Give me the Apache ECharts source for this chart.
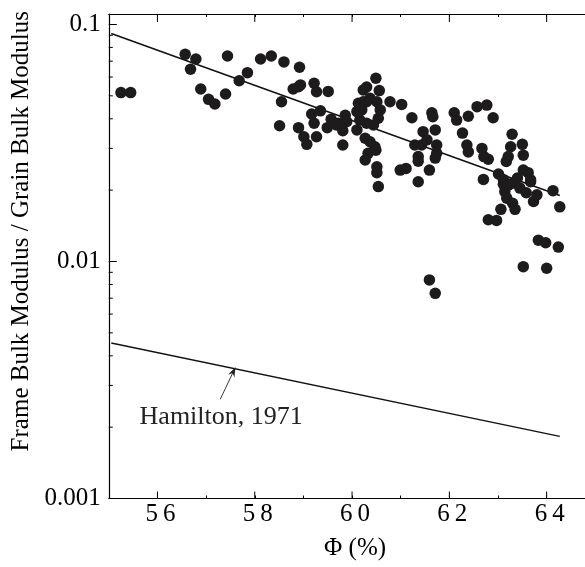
<!DOCTYPE html>
<html>
<head>
<meta charset="utf-8">
<script src="https://cdn.jsdelivr.net/npm/echarts@6/dist/echarts.min.js"></script>
<style>
html,body{margin:0;padding:0;background:#fff;}
#chart{width:585px;height:567px;}
</style>
</head>
<body>
<div id="chart"></div>
<script>
// ---- data ----
const phi = [
  55.25,55.45,56.57,56.68,56.79,56.89,57.05,57.18,57.40,57.44,57.68,57.85,58.12,58.34,58.60,58.92,
  58.79,58.90,58.94,58.55,58.51,59.22,59.27,59.51,59.17,59.35,59.22,58.90,59.01,59.07,59.27,59.49,
  59.57,59.72,59.68,59.81,59.86,59.81,59.89,60.49,60.56,60.23,60.30,60.13,60.23,60.37,60.51,60.58,
  60.54,60.44,60.30,60.16,60.10,60.20,60.30,60.16,60.78,61.02,60.10,60.27,60.37,60.47,60.33,60.27,
  60.51,60.51,60.54,60.49,60.99,61.11,61.23,61.36,61.29,61.36,61.43,61.46,61.54,61.36,61.64,61.66,
  61.71,61.74,61.74,61.71,61.59,62.10,62.15,62.39,62.57,62.77,62.90,62.27,62.36,62.39,62.67,62.71,
  62.80,62.70,63.29,63.26,63.50,63.52,63.21,63.17,63.52,63.62,63.67,63.01,63.11,63.11,63.21,63.30,
  63.45,63.67,63.80,63.14,63.18,63.30,63.35,63.73,64.13,64.27,63.06,62.80,62.97,63.83,63.98,64.24,
  63.52,64.00,61.59,61.71,63.40,63.58
];
const ratio = [
  0.0516,0.0516,0.0748,0.0647,0.0715,0.0534,0.0483,0.0462,0.0509,0.0736,0.0579,0.0626,0.0715,0.0736,0.0695,0.0660,
  0.0534,0.0546,0.0556,0.0472,0.0374,0.0565,0.0520,0.0522,0.0419,0.0432,0.0383,0.0367,0.0336,0.0312,0.0336,0.0367,
  0.0398,0.0383,0.0377,0.0356,0.0414,0.0310,0.0389,0.0593,0.0526,0.0529,0.0545,0.0465,0.0472,0.0488,0.0472,0.0436,
  0.0402,0.0377,0.0383,0.0395,0.0429,0.0436,0.0472,0.0450,0.0472,0.0460,0.0359,0.0331,0.0320,0.0305,0.0286,0.0268,
  0.0251,0.0237,0.0207,0.0295,0.0243,0.0247,0.0404,0.0217,0.0310,0.0277,0.0310,0.0353,0.0326,0.0265,0.0424,0.0408,
  0.0359,0.0310,0.0286,0.0273,0.0243,0.0424,0.0395,0.0410,0.0450,0.0457,0.0404,0.0348,0.0310,0.0290,0.0300,0.0277,
  0.0270,0.0222,0.0344,0.0305,0.0312,0.0281,0.0277,0.0264,0.0243,0.0237,0.0217,0.0234,0.0222,0.0212,0.0210,0.0214,
  0.0204,0.0221,0.0191,0.0197,0.0185,0.0176,0.0166,0.0179,0.0199,0.0170,0.0166,0.0150,0.0149,0.0123,0.0120,0.0115,
  0.00951,0.00936,0.00836,0.00734,0.0225,0.0195
];
// regression line through the data
const fitPhi = [55.05, 64.27];
const fitRatio = [0.0916, 0.0190];
// Hamilton (1971) line
const hamPhi = [55.05, 64.27];
const hamRatio = [0.00453, 0.00183];
// annotation
const hamLabel = 'Hamilton, 1971';
const hamLabelPos = [57.31, 0.00221];
const arrowTail = [57.29, 0.00262];
const arrowTip = [57.56, 0.00343];
// axes
const xMin = 55, xMax = 65;
const yMin = 0.001, yMax = 0.1107;
const xMajorTicks = [56, 58, 60, 62, 64];
const yTickLabels = ['0.001', '0.01', '0.1'];
const yMinorTicks = [0.002,0.003,0.004,0.005,0.006,0.007,0.008,0.009,
                     0.02,0.03,0.04,0.05,0.06,0.07,0.08,0.09];
const xTitle = 'Φ (%)';
const yTitle = 'Frame Bulk Modulus / Grain Bulk Modulus';

const FONT = 'Liberation Serif';
const INK = '#000';

const chart = echarts.init(document.getElementById('chart'), null, {renderer: 'canvas'});

function yLabel(v) {
  const l = Math.log10(v);
  const r = Math.round(l);
  if (Math.abs(l - r) > 1e-6) return '';
  const idx = r + 3;
  return yTickLabels[idx] || '';
}
function xLabel(v) {
  const r = Math.round(v);
  if (Math.abs(v - r) > 1e-6 || xMajorTicks.indexOf(r) < 0) return '';
  return String(r).split('').join('\u2009');
}

const option = {
  animation: false,
  backgroundColor: '#fff',
  textStyle: { fontFamily: FONT, color: INK },
  grid: { left: 108.8, top: 14, bottom: 68.5, right: -10.3, containLabel: false, outerBoundsMode: 'none' },
  xAxis: [
    {
      type: 'value', min: xMin, max: xMax, interval: 1, position: 'bottom',
      name: xTitle, nameLocation: 'middle', nameGap: 37,
      nameTextStyle: { fontFamily: FONT, fontSize: 25, color: INK, padding: [0, 0, 0, 6] },
      axisLine: { show: true, onZero: false, lineStyle: { color: INK, width: 1.2 } },
      axisTick: { show: true, inside: true, length: 3, lineStyle: { color: INK, width: 1 } },
      axisLabel: { formatter: xLabel, fontFamily: FONT, fontSize: 25, color: INK, margin: 3, padding: [0, 0, 0, 6] },
      splitLine: { show: false }
    },
    {
      type: 'value', min: xMin, max: xMax, interval: 1, position: 'top',
      axisLine: { show: true, onZero: false, lineStyle: { color: INK, width: 1.2 } },
      axisTick: { show: true, inside: true, length: 3, lineStyle: { color: INK, width: 1 } },
      axisLabel: { show: false },
      splitLine: { show: false }
    }
  ],
  yAxis: [
    {
      type: 'log', logBase: 10, min: yMin, max: yMax, position: 'left',
      name: yTitle, nameLocation: 'middle', nameGap: 71,
      nameTextStyle: { fontFamily: FONT, fontSize: 25, color: INK, padding: [0, 0, 0, 50] },
      axisLine: { show: true, onZero: false, lineStyle: { color: INK, width: 1.2 } },
      axisTick: { show: true, inside: true, length: 8, lineStyle: { color: INK, width: 1 } },
      axisLabel: { formatter: yLabel, fontFamily: FONT, fontSize: 25, color: INK, margin: 8 },
      splitLine: { show: false },
      minorTick: { show: false }
    }
  ],
  series: [
    {
      type: 'line', name: 'fit', xAxisIndex: 0, yAxisIndex: 0,
      data: fitPhi.map((x, i) => [x, fitRatio[i]]),
      showSymbol: false, symbol: 'none',
      lineStyle: { color: '#111', width: 1.6 }, z: 2
    },
    {
      type: 'line', name: 'Hamilton', xAxisIndex: 0, yAxisIndex: 0,
      data: hamPhi.map((x, i) => [x, hamRatio[i]]),
      showSymbol: false, symbol: 'none',
      lineStyle: { color: '#111', width: 1.3 }, z: 2,
      markLine: {
        silent: true, animation: false,
        symbol: ['none', 'path://M0,14 L5,0 L10,14 L5,9 Z'],
        symbolSize: [7, 10],
        lineStyle: { color: '#222', width: 0.9, type: 'solid' },
        label: { show: false },
        data: [[ { coord: arrowTail }, { coord: arrowTip } ]]
      },
      markPoint: {
        silent: true, animation: false,
        symbol: 'circle', symbolSize: 0,
        label: {
          show: true, formatter: hamLabel, position: 'inside',
          fontFamily: FONT, fontSize: 26, color: '#222'
        },
        data: [ { coord: hamLabelPos } ]
      }
    },
    {
      type: 'scatter', name: 'data', xAxisIndex: 0, yAxisIndex: 0,
      data: phi.map((x, i) => [x, ratio[i]]),
      symbol: 'circle', symbolSize: 11.5,
      itemStyle: { color: '#1d1b1c', opacity: 1 }, z: 3
    },
    {
      // long (major) ticks on bottom and top axes
      type: 'custom', name: 'xMajorTicks', xAxisIndex: 0, yAxisIndex: 0, silent: true,
      data: xMajorTicks.map(v => [v, yMin]),
      renderItem: function (params, api) {
        const v = api.value(0);
        const b = api.coord([v, yMin]);
        const t = api.coord([v, yMax]);
        return { type: 'group', children: [
          { type: 'line', shape: { x1: b[0], y1: b[1], x2: b[0], y2: b[1] - 7 }, style: { stroke: INK, lineWidth: 1 } },
          { type: 'line', shape: { x1: t[0], y1: t[1], x2: t[0], y2: t[1] + 8 }, style: { stroke: INK, lineWidth: 1 } }
        ]};
      }, z: 4
    },
    {
      // log minor ticks on left axis
      type: 'custom', name: 'yMinorTicks', xAxisIndex: 0, yAxisIndex: 0, silent: true,
      data: yMinorTicks.map(v => [xMin, v]),
      renderItem: function (params, api) {
        const p = api.coord([xMin, api.value(1)]);
        return { type: 'line', shape: { x1: p[0], y1: p[1], x2: p[0] + 4, y2: p[1] }, style: { stroke: INK, lineWidth: 1 } };
      }, z: 4
    }
  ]
};
chart.setOption(option);
</script>
</body>
</html>
